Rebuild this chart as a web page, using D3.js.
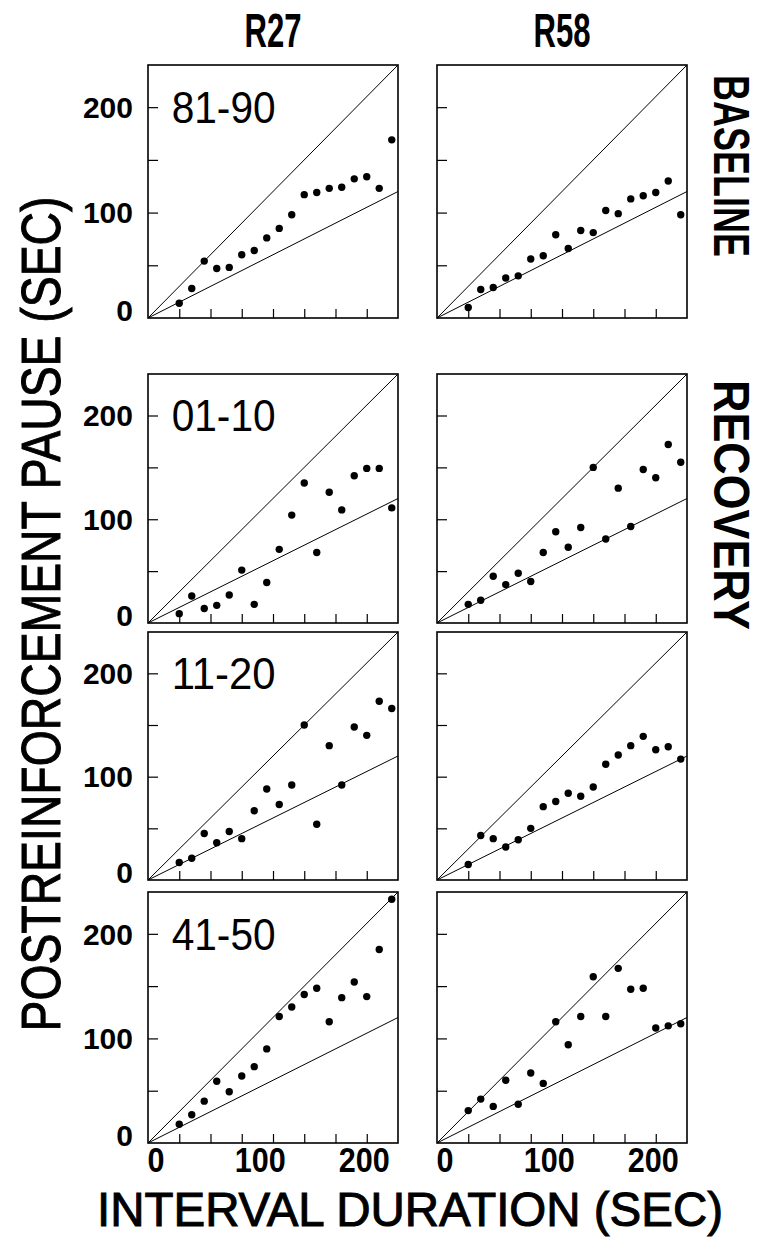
<!DOCTYPE html>
<html lang="en">
<head>
<meta charset="utf-8">
<title>pause vs interval</title>
<script src="https://d3js.org/d3.v7.min.js"></script>
<style>
  body { margin: 0; background: #fff; }
  svg { display: block; }
  .frame { fill: none; stroke: #000; stroke-width: 1.6; }
  .ref { stroke: #000; stroke-width: 1; fill: none; }
  .tick line { stroke: #000; stroke-width: 1.2; }
  .domain { display: none; }
  text { font-family: "Liberation Sans", Arial, sans-serif; fill: #000; }
  .title { stroke: #000; stroke-width: 1; }
</style>
</head>
<body>
<div id="chart"></div>
<script>
// ---- data ----
var subjects = ["R27", "R58"];
var phases = ["81-90", "01-10", "11-20", "41-50"];
var sideLabels = ["BASELINE", "RECOVERY"];

var intervals = [30, 42, 54, 66, 78, 90, 102, 114, 126, 138, 150, 162, 174, 186, 198, 210, 222, 234];

var r27_8190 = [14, 28, 54, 47, 48, 60, 64, 76, 85, 98, 117, 119, 123, 124, 132, 134, 123, 169];
var r58_8190 = [10, 27, 29, 38, 40, 56, 59, 79, 66, 83, 81, 102, 99, 113, 116, 119, 130, 98];
var r27_0110 = [9, 26, 14, 17, 27, 51, 18, 39, 71, 104, 135, 68, 126, 109, 142, 149, 149, 111];
var r58_0110 = [18, 22, 45, 37, 48, 40, 68, 88, 73, 92, 150, 81, 130, 93, 148, 140, 172, 155];
var r27_1120 = [17, 21, 45, 36, 47, 40, 67, 88, 73, 92, 150, 54, 130, 92, 148, 140, 173, 166];
var r58_1120 = [15, 43, 40, 32, 39, 50, 71, 76, 84, 81, 90, 112, 121, 130, 139, 126, 129, 117];
var r27_4150 = [18, 27, 40, 59, 49, 64, 73, 90, 121, 130, 142, 148, 116, 139, 154, 140, 185, 233];
var r58_4150 = [31, 42, 35, 60, 37, 67, 57, 116, 94, 121, 159, 121, 167, 147, 148, 110, 112, 114];

var panelData = [
  [r27_8190, r58_8190],
  [r27_0110, r58_0110],
  [r27_1120, r58_1120],
  [r27_4150, r58_4150]
];

var refSlopes = [1, 0.5];            // unity line and half line
var xTicks = [30, 60, 90, 120, 150, 180, 210];
var yTicks = [50, 100, 150, 200];
var yLabels = [0, 100, 200];
var xLabels = [0, 100, 200];
var maxVal = 240;

// ---- layout ----
var W = 764, H = 1242;
var colLeft = [148, 437];
var panelW = 250;
var rowTop = [65, 374, 632, 892];
var rowH = [253, 249, 248, 251];

var svg = d3.select("#chart").append("svg")
    .attr("width", W)
    .attr("height", H);

var x = d3.scaleLinear().domain([0, maxVal]).range([0, panelW]);

function addText(sel, str, px, py, size, weight, len, rot) {
    var t = sel.append("text")
        .attr("transform", "translate(" + px + "," + py + ")" + (rot ? " rotate(" + rot + ")" : ""))
        .attr("text-anchor", "middle")
        .style("font-size", size + "px")
        .style("font-weight", weight)
        .text(str);
    if (len) t.attr("textLength", len).attr("lengthAdjust", "spacingAndGlyphs");
    return t;
}

panelData.forEach(function(row, r) {
    var y = d3.scaleLinear().domain([0, maxVal]).range([rowH[r], 0]);

    row.forEach(function(vals, c) {
        var g = svg.append("g")
            .attr("transform", "translate(" + colLeft[c] + "," + rowTop[r] + ")");

        // inward ticks
        g.append("g")
            .attr("transform", "translate(0," + rowH[r] + ")")
            .call(d3.axisBottom(x).tickValues(xTicks).tickSize(-9).tickFormat(""));
        g.append("g")
            .call(d3.axisLeft(y).tickValues(yTicks).tickSize(-10).tickFormat(""));

        // reference lines
        g.selectAll("line.ref")
            .data(refSlopes)
            .enter().append("line")
            .attr("class", "ref")
            .attr("x1", x(0)).attr("y1", y(0))
            .attr("x2", x(maxVal))
            .attr("y2", function(s) { return y(maxVal * s); });

        g.selectAll("circle")
            .data(vals)
            .enter().append("circle")
            .attr("cx", function(d, i) { return x(intervals[i]); })
            .attr("cy", function(d) { return y(d); })
            .attr("r", 3.7)
            .attr("fill", "#000");

        g.append("rect")
            .attr("class", "frame")
            .attr("width", panelW)
            .attr("height", rowH[r]);

        if (c == 0) {
            g.append("text")
                .attr("x", x(22.7))
                .attr("y", y(185))
                .style("font-size", "45px")
                .attr("textLength", 104)
                .attr("lengthAdjust", "spacingAndGlyphs")
                .text(phases[r]);

            g.selectAll("text.ylab")
                .data(yLabels)
                .enter().append("text")
                .attr("class", "ylab")
                .attr("x", -15)
                .attr("y", function(d) { return y(d) + (d == 0 ? -8 : 0); })
                .attr("dy", "0.36em")
                .attr("text-anchor", "end")
                .style("font-size", "30px")
                .style("font-weight", "bold")
                .text(function(d) { return d; });
        }

        if (r == panelData.length - 1) {
            g.selectAll("text.xlab")
                .data(xLabels)
                .enter().append("text")
                .attr("class", "xlab")
                .attr("x", function(d) { return x(d) + 8; })
                .attr("y", rowH[r] + 29)
                .attr("text-anchor", "middle")
                .attr("textLength", function(d) { return String(d).length * 17; })
                .attr("lengthAdjust", "spacingAndGlyphs")
                .style("font-size", "35px")
                .style("font-weight", "bold")
                .text(function(d) { return d; });
        }
    });
});

// column headings
subjects.forEach(function(s, c) {
    addText(svg, s, colLeft[c] + panelW / 2, 47, 48, "bold", 57);
});

// side labels
addText(svg, sideLabels[0], 714, 166, 50, "bold", 182, 90);
addText(svg, sideLabels[1], 714, 505, 50, "bold", 250, 90);

// axis titles
addText(svg, "POSTREINFORCEMENT PAUSE (SEC)", 60, 614, 56, "normal", 835, -90).attr("class", "title");
addText(svg, "INTERVAL DURATION (SEC)", 410, 1226, 48, "normal", 626).attr("class", "title");
</script>
</body>
</html>
